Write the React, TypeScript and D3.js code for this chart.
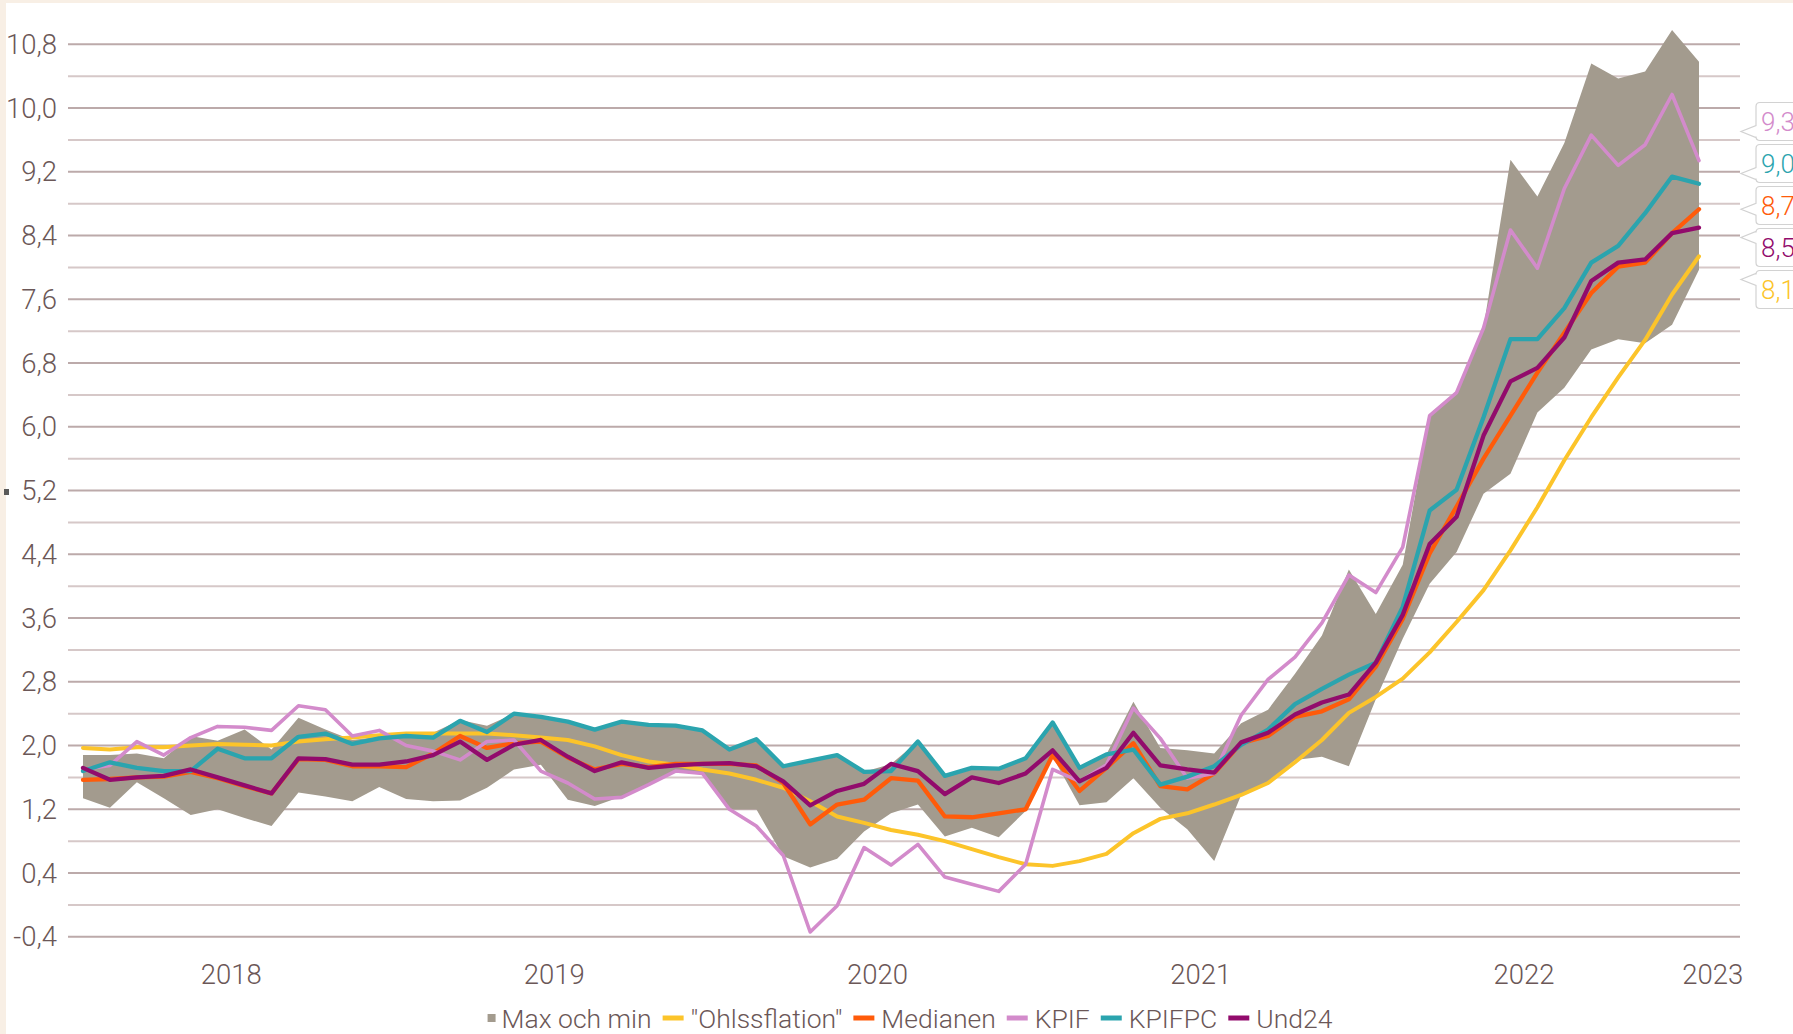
import React from 'react';
import * as d3 from 'd3';

const W = 1793;
const H = 1034;

// Year categories (monthly data from Jan 2018 to Jan 2023)
const years = [2018, 2019, 2020, 2021, 2022, 2023];
const startYear = 2018;

// Y tick labels (every 0.8), gridlines every 0.4
const yTickValues = [-0.4, 0.4, 1.2, 2.0, 2.8, 3.6, 4.4, 5.2, 6.0, 6.8, 7.6, 8.4, 9.2, 10.0, 10.8];

const maxVals = [1.88, 1.88, 1.90, 1.84, 2.12, 2.06, 2.20, 1.95, 2.35, 2.20, 2.07, 2.11, 2.13, 2.16, 2.32, 2.25, 2.40, 2.36,
  2.30, 2.20, 2.30, 2.26, 2.25, 2.19, 1.95, 2.08, 1.74, 1.81, 1.88, 1.67, 1.77, 2.05, 1.62, 1.72, 1.71,
  1.84, 2.29, 1.72, 1.89, 2.55, 1.97, 1.94, 1.90, 2.28, 2.45, 2.90, 3.38, 4.21, 3.65, 4.27,
  6.16, 6.45, 7.25, 9.35, 8.89, 9.56, 10.56, 10.37, 10.46, 10.98, 10.58];
const minVals = [1.34, 1.22, 1.54, 1.34, 1.13, 1.20, 1.09, 0.99, 1.41, 1.36, 1.30, 1.48, 1.33, 1.30, 1.31, 1.47, 1.70, 1.76,
  1.32, 1.24, 1.36, 1.51, 1.68, 1.64, 1.20, 1.20, 0.61, 0.47, 0.58, 0.92, 1.15, 1.26, 0.86, 0.97, 0.85,
  1.18, 1.86, 1.25, 1.29, 1.59, 1.22, 0.95, 0.55, 1.38, 1.53, 1.82, 1.86, 1.74, 2.58, 3.34,
  4.03, 4.43, 5.16, 5.41, 6.18, 6.49, 6.97, 7.10, 7.05, 7.28, 7.97];
const ohlssflation = [1.97, 1.95, 1.98, 1.98, 2.00, 2.02, 2.01, 2.00, 2.05, 2.08, 2.10, 2.13, 2.15, 2.15, 2.15, 2.15, 2.13, 2.10,
  2.07, 1.99, 1.88, 1.80, 1.76, 1.70, 1.65, 1.57, 1.47, 1.30, 1.11, 1.03, 0.94, 0.88, 0.80, 0.70, 0.60,
  0.51, 0.49, 0.55, 0.64, 0.90, 1.08, 1.15, 1.26, 1.38, 1.53, 1.79, 2.07, 2.41, 2.61, 2.84,
  3.17, 3.55, 3.95, 4.45, 4.99, 5.58, 6.12, 6.62, 7.09, 7.66, 8.14];
const medianen = [1.57, 1.58, 1.60, 1.61, 1.67, 1.59, 1.49, 1.40, 1.83, 1.82, 1.74, 1.74, 1.73, 1.90, 2.12, 1.97, 2.03, 2.05,
  1.85, 1.70, 1.77, 1.73, 1.77, 1.77, 1.77, 1.75, 1.53, 1.01, 1.26, 1.32, 1.59, 1.56, 1.11, 1.10, 1.15,
  1.20, 1.88, 1.43, 1.72, 2.03, 1.49, 1.45, 1.65, 2.03, 2.12, 2.36, 2.43, 2.58, 2.99, 3.59,
  4.41, 5.00, 5.60, 6.14, 6.68, 7.18, 7.68, 8.01, 8.06, 8.43, 8.73];
const kpif = [1.70, 1.75, 2.05, 1.88, 2.10, 2.24, 2.23, 2.19, 2.50, 2.45, 2.12, 2.19, 2.00, 1.93, 1.82, 2.05, 2.07, 1.68,
  1.53, 1.33, 1.35, 1.51, 1.68, 1.65, 1.20, 0.99, 0.62, -0.34, -0.01, 0.72, 0.50, 0.76, 0.35, 0.26, 0.17,
  0.51, 1.70, 1.55, 1.76, 2.47, 2.09, 1.59, 1.65, 2.38, 2.83, 3.11, 3.54, 4.14, 3.92, 4.49,
  6.14, 6.43, 7.24, 8.47, 7.99, 8.99, 9.66, 9.28, 9.54, 10.17, 9.34];
const kpifpc = [1.68, 1.79, 1.72, 1.68, 1.68, 1.96, 1.84, 1.84, 2.11, 2.15, 2.02, 2.09, 2.12, 2.10, 2.31, 2.17, 2.40, 2.36,
  2.30, 2.20, 2.30, 2.26, 2.25, 2.19, 1.95, 2.08, 1.74, 1.81, 1.88, 1.67, 1.68, 2.05, 1.62, 1.72, 1.71,
  1.84, 2.29, 1.72, 1.89, 1.95, 1.51, 1.61, 1.74, 2.01, 2.20, 2.52, 2.71, 2.89, 3.04, 3.74,
  4.95, 5.21, 6.12, 7.10, 7.10, 7.49, 8.06, 8.27, 8.68, 9.14, 9.05];
const und24 = [1.72, 1.57, 1.60, 1.62, 1.70, 1.60, 1.50, 1.40, 1.84, 1.83, 1.76, 1.76, 1.80, 1.88, 2.05, 1.82, 2.01, 2.07,
  1.86, 1.68, 1.79, 1.72, 1.75, 1.77, 1.78, 1.74, 1.55, 1.25, 1.43, 1.52, 1.77, 1.68, 1.39, 1.60, 1.53,
  1.65, 1.94, 1.55, 1.72, 2.16, 1.75, 1.70, 1.66, 2.04, 2.16, 2.39, 2.54, 2.64, 3.04, 3.64,
  4.53, 4.87, 5.89, 6.57, 6.74, 7.12, 7.83, 8.06, 8.10, 8.43, 8.50];

const seriesNames = ['"Ohlssflation"', 'Medianen', 'KPIF', 'KPIFPC', 'Und24'];
const seriesData = [ohlssflation, medianen, kpif, kpifpc, und24];
const seriesColors = ['#fcc42a', '#ff5b0a', '#d38bcb', '#2ba4ae', '#920b6c'];
const seriesWidths = [4, 4.3, 3.6, 4.3, 4.3];
const areaName = 'Max och min';
const areaColor = '#a39b8e';

const textColor = '#6b5757';
const FONT = 'Roboto, "Open Sans", sans-serif';

function fmt(v: number, d: number) {
  return v.toFixed(d).replace('.', ',');
}

function measure(text: string, size: number) {
  if (typeof document === 'undefined') return text.length * size * 0.5;
  const c = document.createElement('canvas');
  const ctx = c.getContext('2d');
  if (!ctx) return text.length * size * 0.5;
  ctx.font = `300 ${size}px Roboto`;
  return ctx.measureText(text).width;
}

export default function App() {
  const plotLeft = 68;
  const plotRight = 1740;
  const n = kpif.length;
  const x = d3.scaleLinear().domain([0, n - 1]).range([83, 1699]);
  const y = d3.scaleLinear().domain([-0.4, 10.8]).range([936.8, 44.3]);

  const gridVals = d3.range(-0.4, 10.81, 0.4);

  const area = d3.area<number>()
    .x((_, i) => x(i))
    .y0((_, i) => y(minVals[i]))
    .y1((_, i) => y(maxVals[i]));

  const line = d3.line<number>()
    .x((_, i) => x(i))
    .y((d) => y(d));

  const yearLabels = years.map((yr) => {
    const a = (yr - startYear) * 12 - 0.5;
    const b = a + 12;
    const xa = Math.max(plotLeft, x(a));
    const xb = Math.min(plotRight, x(b));
    return { yr, cx: (xa + xb) / 2 };
  });

  const lastIdx = n - 1;
  const ends = seriesData.map((s, k) => ({ k, v: s[lastIdx], yd: y(s[lastIdx]) }))
    .sort((p, q) => p.yd - q.yd);
  const meanY = d3.mean(ends, (e) => e.yd) as number;
  const spacing = 42;
  const boxH = 38;
  const boxX = 1756;
  const tipX = 1741;
  const endLabels = ends.map((e, i) => {
    const cy = meanY - 2 + (i - (ends.length - 1) / 2) * spacing;
    const top = cy - boxH / 2;
    const bottom = cy + boxH / 2;
    const tipY = Math.max(cy - 10, Math.min(cy + 10, e.yd));
    const r = 4;
    const path = `M${boxX + r},${top} H1810 V${bottom} H${boxX + r} Q${boxX},${bottom} ${boxX},${bottom - r} V${tipY + 6} L${tipX},${tipY} L${boxX},${tipY - 6} V${top + r} Q${boxX},${top} ${boxX + r},${top} Z`;
    return { ...e, cy, path };
  });

  const legFont = 26.5;
  const legY = 1018;
  type LegItem = { kind: 'area' | 'line'; name: string; color: string; x0: number; tx: number; w: number };
  const items: LegItem[] = [];
  let cursor = 0;
  const pieces: { kind: 'area' | 'line'; name: string; color: string }[] = [
    { kind: 'area', name: areaName, color: areaColor },
    ...seriesNames.map((nm, k) => ({ kind: 'line' as const, name: nm, color: seriesColors[k] })),
  ];
  pieces.forEach((p, i) => {
    const symW = p.kind === 'area' ? 8 : 21;
    const gapSym = p.kind === 'area' ? 6 : 7;
    const tw = measure(p.name, legFont);
    const x0 = cursor;
    const tx = x0 + symW + gapSym;
    items.push({ kind: p.kind, name: p.name, color: p.color, x0, tx, w: tw });
    cursor = tx + tw + (i < pieces.length - 1 ? 11 : 0);
  });
  const legStart = 910 - cursor / 2;

  return (
    <div style={{ position: 'absolute', left: 0, top: 0, width: W, height: H, overflow: 'hidden' }}>
      <svg width={W} height={H} viewBox={`0 0 ${W} ${H}`} style={{ display: 'block', fontFamily: FONT }}>
        <rect x={0} y={0} width={W} height={H} fill="#f8efe5" />
        <rect x={6} y={3} width={W - 6} height={H - 3} fill="#ffffff" />
        <rect x={4} y={489} width={5} height={6} fill="#5a5a5a" />

        {gridVals.map((v, i) => {
          const major = i % 2 === 0;
          return (
            <line key={'g' + i} x1={plotLeft} x2={plotRight} y1={y(v)} y2={y(v)}
              stroke={major ? '#bcaaaa' : '#d6c8c8'} strokeWidth={2} />
          );
        })}

        {yTickValues.map((v) => (
          <text key={'yt' + v} x={57} y={y(v)} textAnchor="end" dominantBaseline="central"
            fontSize={27.5} fontWeight={300} fill={textColor}>{fmt(v, 1)}</text>
        ))}

        {yearLabels.map((d) => (
          <text key={'yr' + d.yr} x={d.cx} y={974} textAnchor="middle" dominantBaseline="central"
            fontSize={27.5} fontWeight={300} fill={textColor}>{d.yr}</text>
        ))}

        <path d={area(kpif) || ''} fill={areaColor} />

        {seriesData.map((s, k) => (
          <path key={'l' + k} d={line(s) || ''} fill="none" stroke={seriesColors[k]}
            strokeWidth={seriesWidths[k]} strokeLinejoin="round" strokeLinecap="round" />
        ))}

        {endLabels.map((e) => (
          <g key={'el' + e.k}>
            <path d={e.path} fill="#ffffff" stroke="#d2d2d2" strokeWidth={1.2} />
            <text x={1761} y={e.cy} dominantBaseline="central" fontSize={26} fontWeight={300}
              fill={seriesColors[e.k]}>{fmt(e.v, 2)}</text>
          </g>
        ))}

        {items.map((it, i) => (
          <g key={'lg' + i} transform={`translate(${legStart},0)`}>
            {it.kind === 'area'
              ? <rect x={it.x0} y={legY - 4} width={8} height={8} fill={it.color} />
              : <line x1={it.x0} x2={it.x0 + 21} y1={legY} y2={legY} stroke={it.color} strokeWidth={5} />}
            <text x={it.tx} y={legY} dominantBaseline="central" fontSize={legFont} fontWeight={300}
              fill={textColor}>{it.name}</text>
          </g>
        ))}
      </svg>
    </div>
  );
}
